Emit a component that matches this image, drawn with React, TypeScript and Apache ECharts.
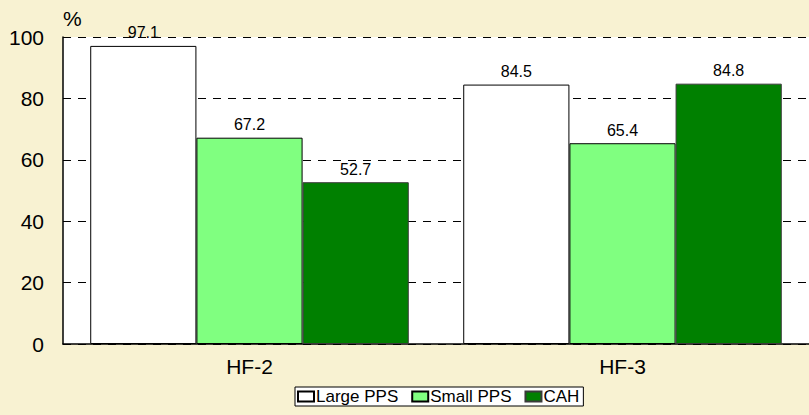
import React, { useEffect, useRef } from "react";
import * as echarts from "echarts";

const categories = ["HF-2", "HF-3"];
const seriesNames = ["Large PPS", "Small PPS", "CAH"];
const largePPS = [97.1, 84.5];
const smallPPS = [67.2, 65.4];
const cah = [52.7, 84.8];
const yTicks = [0, 20, 40, 60, 80, 100];

export default function App() {
  const ref = useRef<HTMLDivElement>(null);
  useEffect(() => {
    if (!ref.current) return;
    const chart = echarts.init(ref.current, undefined, { renderer: "svg" });
    const font = "Liberation Sans, Arial, sans-serif";
    const mk = (name: string, data: number[], color: string, border: string) => ({
      name,
      type: "bar",
      data,
      barGap: "0%",
      barCategoryGap: "14.6%",
      itemStyle: { color, borderColor: border, borderWidth: 1 },
      label: {
        show: true,
        position: "top",
        distance: 5,
        color: "#000",
        fontSize: 16,
        fontFamily: font,
        formatter: (p: any) => p.value.toFixed(1),
      },
    });
    chart.setOption({
      animation: false,
      backgroundColor: "#F8F2D2",
      textStyle: { fontFamily: font },
      grid: { left: 63, top: 37, width: 754, height: 307, show: true, backgroundColor: "#FFFFFF", borderWidth: 0 },
      legend: {
        data: seriesNames,
        top: 387,
        left: 295,
        itemWidth: 16,
        itemHeight: 10,
        itemGap: 13,
        padding: [1, 4, 1, 2],
        backgroundColor: "#FFFFFF",
        borderColor: "#000",
        borderWidth: 1,
        borderRadius: 0,
        textStyle: { fontSize: 17, color: "#000", fontFamily: font, padding: [0, 0, 0, -3] },
        icon: "rect",
      },
      xAxis: {
        type: "category",
        data: categories,
        axisLine: { lineStyle: { color: "#000", width: 1.5 } },
        axisTick: { show: false },
        axisLabel: { fontSize: 21, color: "#000", margin: 12, fontFamily: font },
      },
      yAxis: {
        type: "value",
        min: 0,
        max: 100,
        interval: 20,
        name: "%",
        nameLocation: "end",
        nameGap: 8,
        nameTextStyle: { fontSize: 21, color: "#000", align: "left", fontFamily: font },
        axisLine: { show: true, lineStyle: { color: "#000", width: 1.5 } },
        axisTick: { show: false },
        axisLabel: {
          fontSize: 21,
          color: "#000",
          margin: 19,
          fontFamily: font,
          formatter: (v: number) => (yTicks.includes(v) ? String(v) : ""),
        },
        splitLine: { show: true, lineStyle: { color: "#000", type: [8, 7], width: 1 } },
      },
      series: [
        mk(seriesNames[0], largePPS, "#FFFFFF", "#000000"),
        mk(seriesNames[1], smallPPS, "#80FF80", "#000000"),
        mk(seriesNames[2], cah, "#008000", "#3a3a3a"),
      ],
    });
    return () => chart.dispose();
  }, []);
  return (
    <div
      ref={ref}
      style={{ position: "fixed", left: 0, top: 0, width: 809, height: 415 }}
    />
  );
}
